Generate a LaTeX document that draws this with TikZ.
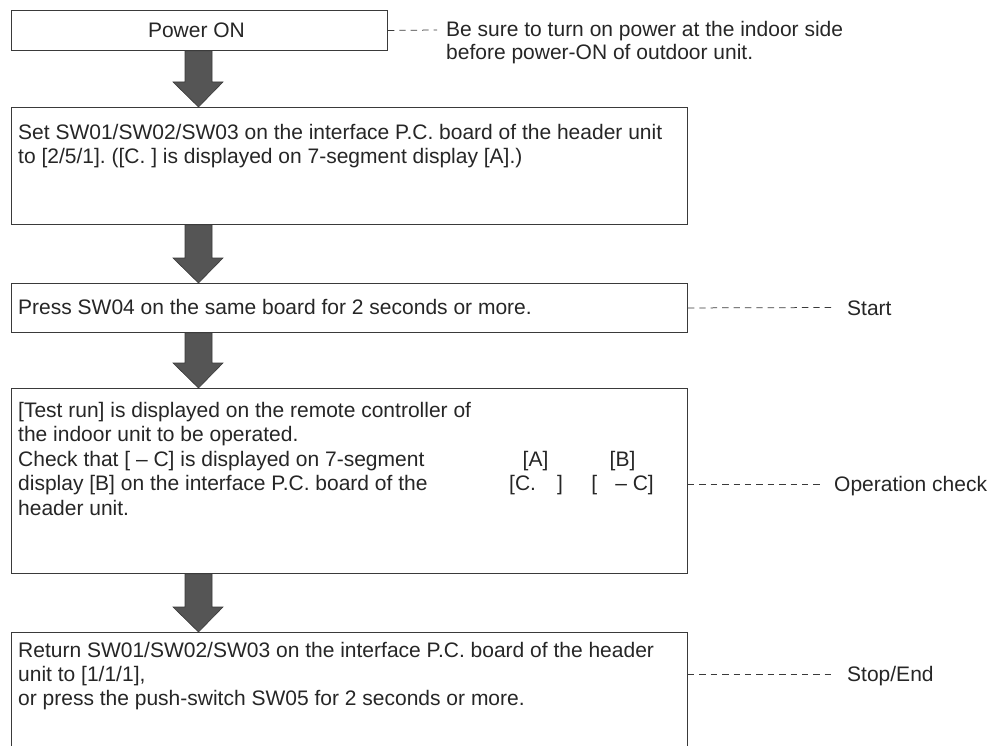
\documentclass[tikz,border=0pt]{standalone}
\usepackage{fontspec}
\setmainfont{Liberation Sans}
\usetikzlibrary{calc}
\definecolor{ln}{HTML}{3A3A3A}
\definecolor{tx}{HTML}{262626}
\definecolor{af}{HTML}{555555}
\tikzset{
  box/.style={draw=ln, line width=0.9pt, fill=white, rectangle, inner sep=0pt, anchor=north west},
  t/.style={text=tx, font=\fontsize{21}{25}\selectfont\frenchspacing, inner sep=0pt, anchor=base west},
  lead/.style={draw=ln, line width=0.75pt, dash pattern=on 6.4pt off 5pt},
  fat/.style={fill=af, draw=ln, line width=0.6pt, line join=miter},
}
\newcommand\fatarrow[2]{%
  \draw[fat] let \p1=(#1.south), \p2=(#2.north) in
    (185pt,\y1) -- (212pt,\y1) -- (212pt,\y2+25pt) -- (223pt,\y2+25pt) --
    (198.5pt,\y2) -- (173pt,\y2+25pt) -- (185pt,\y2+25pt) -- cycle;}
\begin{document}
\begin{tikzpicture}[x=1pt,y=-1pt]
\useasboundingbox (0,0) rectangle (1006,746);
\clip (0,0) rectangle (1006,746);

% boxes
\node[box, minimum width=376pt, minimum height=40pt] (b1) at (11,10) {};
\node[box, minimum width=676.5pt, minimum height=117pt] (b2) at (10.5,107) {};
\node[box, minimum width=676.5pt, minimum height=49pt] (b3) at (10.5,283) {};
\node[box, minimum width=676.5pt, minimum height=185pt] (b4) at (10.5,388) {};
\node[box, minimum width=676.5pt, minimum height=150pt] (b5) at (10.5,632) {};

% arrows
\fatarrow{b1}{b2}
\fatarrow{b2}{b3}
\fatarrow{b3}{b4}
\fatarrow{b4}{b5}

% box texts
\node[t, anchor=center] (p1) at ([xshift=-3pt]b1.center) {Power ON};

\node[t] (s1) at (18,139.5) {Set SW01/SW02/SW03 on the interface P.C. board of the header unit};
\node[t] (s2) at (18,164) {to [2/5/1]. ([C.\ ] is displayed on 7-segment display [A].)};

\node[t] (r1) at (18,314) {Press SW04 on the same board for 2 seconds or more.};

\node[t] (c1) at (18,417) {[Test run] is displayed on the remote controller of};
\node[t] (c2) at (18,441.6) {the indoor unit to be operated.};
\node[t] (c3) at (18,466.2) {Check that [ – C] is displayed on 7-segment};
\node[t] (c4) at (18,490.8) {display [B] on the interface P.C. board of the};
\node[t] (c5) at (18,515.4) {header unit.};
\node[t, anchor=base] (dA) at (535.5,466.2) {[A]};
\node[t, anchor=base] (dB) at (622.5,466.2) {[B]};
\node[t] (dC) at (509,490.8) {[C.\hspace{21pt}]};
\node[t, anchor=base east] (dD) at (654,490.8) {[\hspace{18pt}– C]};

\node[t] (e1) at (18,657) {Return SW01/SW02/SW03 on the interface P.C. board of the header};
\node[t] (e2) at (18,681) {unit to [1/1/1],};
\node[t] (e3) at (18,705) {or press the push-switch SW05 for 2 seconds or more.};

% side notes
\coordinate (k1) at (437,30);
\draw[lead] (b1.east) -- (k1);
\node[t] (n1) at (446,37) {Be sure to turn on power at the indoor side};
\node[t] (n2) at (446,60) {before power-ON of outdoor unit.};

\coordinate (k3) at (835,307.5);
\draw[lead] (b3.east) -- (k3);
\node[t] (l3) at (847,315) {Start};

\coordinate (k4) at (822,484);
\draw[lead] (k4 -| b4.east) -- (k4);
\node[t] (l4) at (834,491.5) {Operation check};

\coordinate (k5) at (835,674);
\draw[lead] (k5 -| b5.east) -- (k5);
\node[t] (l5) at (847,681.5) {Stop/End};
\end{tikzpicture}
\end{document}
